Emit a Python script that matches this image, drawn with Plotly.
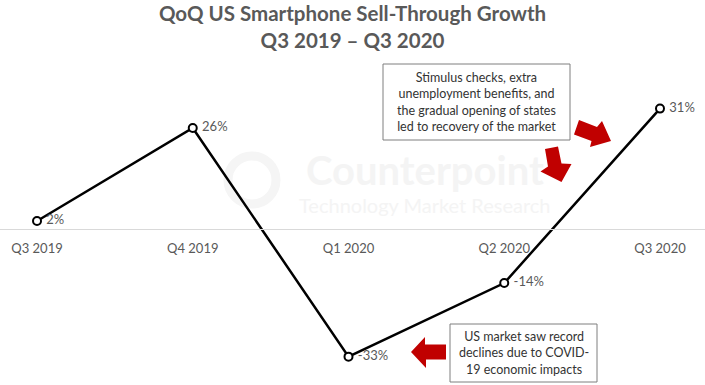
import plotly.graph_objects as go

quarters = ["Q3 2019", "Q4 2019", "Q1 2020", "Q2 2020", "Q3 2020"]
growth = [2, 26, -33, -14, 31]
growth_labels = ["2%", "26%", "-33%", "-14%", "31%"]

title_line1 = "QoQ US Smartphone Sell-Through Growth"
title_line2 = "Q3 2019 – Q3 2020"
note_recovery = "Stimulus checks, extra<br>unemployment benefits, and<br>the gradual opening of states<br>led to recovery of the market"
note_decline = "US market saw record<br>declines due to COVID-<br>19 economic impacts"

W, H = 705, 385
FONT = "Lato"
GRAY = "#595959"
RED = "#C00000"

def px(x):
    return x / W

def py(y):
    return 1 - y / H

def path(points):
    return "M " + " L ".join(f"{px(x):.5f},{py(y):.5f}" for x, y in points) + " Z"

fig = go.Figure()
fig.add_trace(go.Scatter(
    x=quarters, y=growth, mode="lines+markers+text",
    text=growth_labels, texttemplate="\u00a0%{text}", textposition="middle right",
    textfont=dict(family=FONT, size=13, color=GRAY),
    line=dict(color="black", width=2.5),
    marker=dict(symbol="circle", size=8, color="white",
                line=dict(color="black", width=2)),
    cliponaxis=False, hoverinfo="skip",
))

shapes = []
# watermark logo ring
shapes.append(dict(type="circle", xref="paper", yref="paper",
                   x0=px(228), x1=px(276), y0=py(204), y1=py(156),
                   line=dict(color="#f5f5f5", width=9), layer="below"))
# note boxes
shapes.append(dict(type="rect", xref="paper", yref="paper",
                   x0=px(383), x1=px(570), y0=py(140), y1=py(64),
                   line=dict(color="#7f7f7f", width=1), fillcolor="white"))
shapes.append(dict(type="rect", xref="paper", yref="paper",
                   x0=px(450), x1=px(597), y0=py(382), y1=py(324),
                   line=dict(color="#7f7f7f", width=1), fillcolor="white"))
# red arrows
arrows = [
    [(411, 352), (425, 337), (425, 344.5), (446, 344.5), (446, 359.5), (426, 359.5), (426, 368)],
    [(545, 149), (558, 146.5), (561.5, 163.5), (571.5, 164), (561.5, 182), (540.5, 171.5), (548, 166.5)],
    [(579, 120), (597, 127), (602, 121), (611, 141), (590, 147), (591.5, 141), (574, 134.5)],
]
for a in arrows:
    shapes.append(dict(type="path", xref="paper", yref="paper", path=path(a),
                       fillcolor=RED, line=dict(width=0)))

def note(text, x, y, size=12, color="#262626", weight="normal"):
    return dict(text=text, x=px(x), y=py(y), xref="paper", yref="paper",
                xanchor="center", yanchor="middle", showarrow=False, align="center",
                font=dict(family=FONT, size=size, color=color, weight=weight))

annotations = [
    note("Counterpoint", 425, 170, size=40, color="#f4f4f4", weight="bold"),
    note("Technology Market Research", 425, 205, size=20, color="#f4f4f4"),
    note(note_recovery, 476.5, 102, size=12.5, color="#333333"),
    note(note_decline, 523.5, 353, size=12.5, color="#333333"),
]

fig.update_layout(
    width=W, height=H,
    margin=dict(l=0, r=0, t=0, b=0),
    paper_bgcolor="white", plot_bgcolor="white",
    showlegend=False,
    title=dict(text=f"<b>{title_line1}<br>{title_line2}</b>", x=0.5, xanchor="center",
               y=1 - 21 / H, yanchor="middle",
               font=dict(family=FONT, size=20.5, color=GRAY)),
    shapes=shapes, annotations=annotations,
    xaxis=dict(range=[-0.2376, 4.289], showgrid=False, zeroline=False,
               showline=True, linecolor="#d9d9d9", linewidth=1,
               anchor="free", position=(385 - 228.75) / 385,
               ticks="", ticklabelstandoff=8,
               tickfont=dict(family=FONT, size=13, color=GRAY)),
    yaxis=dict(range=[-40.32, 59.03], visible=False, showgrid=False, zeroline=False),
)

fig.write_html("out.html", config={"displayModeBar": False, "staticPlot": True},
               post_script="document.body.style.margin='0';document.body.style.overflow='hidden';")
